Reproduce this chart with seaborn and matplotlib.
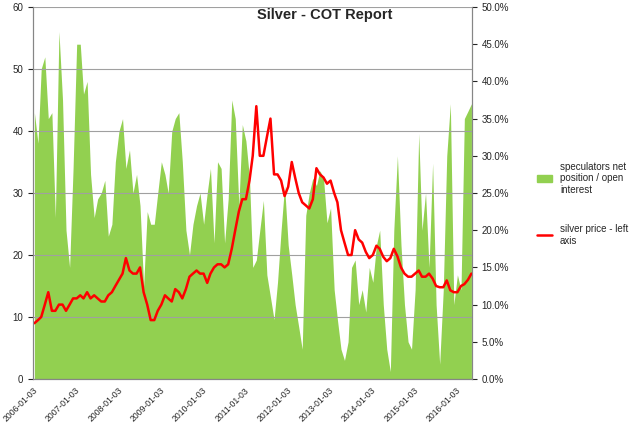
import matplotlib
matplotlib.use("Agg")
import matplotlib.pyplot as plt
import seaborn as sns
import pandas as pd
import numpy as np
from matplotlib.lines import Line2D
from matplotlib.patches import Patch

sns.set_style("white")
plt.rcParams['font.family'] = ['Liberation Sans', 'DejaVu Sans']

start = "2006-01-01"
# speculators net position / open interest, percent, monthly
spec_pct = [35.8,31.7,41.7,43.3,35,35.8,21.7,46.7,37.5,20,15,28.3,
            45,45,38.3,40,27.5,21.7,24.2,25,26.7,19.2,20.8,29.2,
            33.3,35,28.3,30.8,25,27.5,23.3,12.5,22.5,20.8,20.8,25,
            29.2,27.5,25,33.3,35,35.8,29.2,20,16.7,20.8,23.3,25,
            20.8,25,28.3,18.3,29.2,28.3,18.3,24.2,37.5,35,23.3,34.2,
            32,27,15,16,20,24,14,11,8,13,20,26,
            18,14,10,7,4,22,25,27,26,28,27,21,
            23,12,8,4,2.5,5,15,16,10,12,9,15,
            13,18,20,10,4,1,20,30,18,10,5,4,
            12,33,20,25,15,29,10,2,12,30,37,10,
            14,12,35,36,37]
# silver price, USD, monthly
price = [9,9.5,10,12,14,11,11,12,12,11,12,13,
         13,13.5,13,14,13,13.5,13,12.5,12.5,13.5,14,15,
         16,17,19.5,17.5,17,17,18,14,12,9.5,9.5,11,
         12,13.5,13,12.5,14.5,14,13,14.5,16.5,17,17.5,17,
         17,15.5,17,18,18.5,18.5,18,18.5,21,24,27,29,
         29,32,36,44,36,36,39,42,33,33,32,29.5,
         31,35,32.5,30,28.5,28,27.5,29,34,33,32.5,31.5,
         32,30,28.5,24,22,20,20,24,22.5,22,20.5,19.5,
         20,21.5,21,19.7,19,19.5,21,19.8,18,17,16.5,16.5,
         17,17.5,16.5,16.5,17,16.2,15,14.8,14.8,15.9,14.3,14,
         14,15,15.3,16,17]
tick_labels = [f"{y}-01-03" for y in range(2006, 2017)]

dates = pd.date_range(start, periods=len(price), freq="MS") + pd.Timedelta(days=14)
df = pd.DataFrame({"date": dates, "spec": spec_pct, "price": price})

fig = plt.figure(figsize=(6.4, 4.24), dpi=100)
ax = fig.add_axes([33/640, 45/424, 439/640, 372/424])
ax2 = ax.twinx()

ax2.fill_between(df["date"], 0, df["spec"], color="#92D050", lw=0)
ax2.set_ylim(0, 50)
ax2.set_yticks(np.arange(0, 51, 5))
ax2.set_yticklabels([f"{v:.1f}%" for v in np.arange(0, 51, 5)], fontsize=7)

ax.set_zorder(ax2.get_zorder() + 1)
ax.patch.set_visible(False)
sns.lineplot(data=df, x="date", y="price", ax=ax, color="#FF0000", lw=1.8)
ax.set_ylim(0, 60)
ax.set_yticks(range(0, 61, 10))
ax.tick_params(axis="y", labelsize=7)
ax.set_ylabel(""); ax.set_xlabel("")
ax.grid(axis="y", color="#A0A0A0", lw=0.8)
ax2.grid(False)
ax.set_xlim(pd.Timestamp("2006-01-03"), pd.Timestamp("2016-05-20"))
ticks = [pd.Timestamp(t) for t in tick_labels]
ax.set_xticks(ticks)
ax.set_xticklabels(tick_labels, rotation=45, ha="right", rotation_mode="anchor", fontsize=6.2)
ax.tick_params(axis="x", length=3, pad=2)
for a in (ax, ax2):
    a.spines["top"].set_visible(False)
    for s in ("left", "right", "bottom"):
        a.spines[s].set_color("#868686")

fig.text(257/640, 1-15/424, "Silver - COT Report", fontsize=10.5, fontweight="bold", ha="left", va="center")

handles = [Patch(color="#92D050"), Line2D([], [], color="#FF0000", lw=1.8)]
labels = ["speculators net\nposition / open\ninterest", "silver price - left\naxis"]
fig.legend(handles, labels, loc="center left", bbox_to_anchor=(528/640, 0.52), frameon=False,
           fontsize=7, labelspacing=3, handlelength=1.6)

fig.savefig("out.png", dpi=100)
